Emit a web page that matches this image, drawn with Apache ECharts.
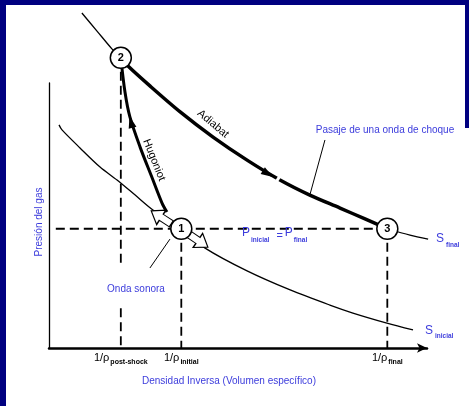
<!DOCTYPE html>
<html><head><meta charset="utf-8">
<script src="https://cdn.jsdelivr.net/npm/echarts@6/dist/echarts.min.js"></script>
<style>html,body{margin:0;padding:0;background:#fff}#c{width:469px;height:406px}</style>
</head><body><div id="c"></div><script>
// ---- data (arbitrary units: specific volume 0..100, pressure 0..100) ----
const vPostShock = 19, vInitial = 35, vFinal = 89.5;
const pInitial = 45, pPostShock = 109.5;
const tickValues = [vPostShock, vInitial, vFinal];
const tickMain = ['1/ρ', '1/ρ', '1/ρ'];
const tickSub = ['post-shock', 'initial', 'final'];
const adiabatAbove = [[8.7,126.4],[12.7,119.6],[16.7,112.8],[19,109.5]];
const adiabatShock = [[19,109.5],[20.9,106.4],[26.7,98.9],[34.7,89.1],[43.4,79.6],[52.4,70.9],[61.1,63.4],[69,57.7],[77,52.8],[83.6,48.7],[89.5,45]];
const adiabatBelow = [[89.5,45],[95.5,42.6],[100.3,41.1]];
const isentropeInicial = [[2.65,84.2],[3.44,82.3],[8.2,75.5],[13.5,68.3],[18,63.4],[22.8,57.7],[27.5,52.1],[35,45],[41.3,37.7],[52.4,29.1],[63.8,21.9],[74.3,16.2],[80.4,13.2],[89.4,9.4],[96.3,6.8]];
const hugoniot = [[19,109.5],[20.1,96.6],[21.4,87.2],[24.1,75.8],[27.2,64.5],[29.9,54.7],[31.2,51.3]];
const stateNames = ['1', '2', '3'];
const statePoints = [[vInitial, pInitial], [vPostShock, pPostShock], [vFinal, pInitial]];
const guideH = [[1.8, pInitial], [vFinal, pInitial]];
const guidePostUpper = [[vPostShock, pPostShock], [vPostShock, 32]];
const guidePostLower = [[vPostShock, 15], [vPostShock, 0]];
const guideInitial = [[vInitial, pInitial], [vInitial, 0]];
const guideFinal = [[vFinal, pInitial], [vFinal, 0]];
const pointerShock = [[73, 78.5], [69, 57.7]];
const pointerSound = [[26.7, 30.2], [32, 41.1]];
const flowArrows = [[57.9, 65.7, -122], [21.7, 85.3, 15]];
const arrowGap = [[60.6, 63.8]];
const soundArrows = [[29.7, 49.3, 147], [39.4, 40.6, -34]];

const BLUE = '#3c3cdc', NAVY = '#000080';
const FONT = '"Liberation Sans", Arial, sans-serif';

function line(data, width, dashed, smooth) {
  return {
    type: 'line', data: data, showSymbol: false, symbol: 'none', clip: false,
    smooth: smooth ? 0.3 : false, silent: true, z: dashed ? 2 : 3,
    lineStyle: { color: '#000', width: width, type: dashed ? [9, 5] : 'solid', cap: 'butt' }
  };
}

const chart = echarts.init(document.getElementById('c'), null, { renderer: 'canvas' });
chart.setOption({
  animation: false,
  backgroundColor: '#fff',
  grid: { left: 49, top: 83, width: 378, height: 265, outerBoundsMode: 'none' },
  xAxis: {
    type: 'value', min: 0, max: 100,
    axisLine: { show: true, symbol: ['none', 'arrow'], symbolSize: [7, 10], lineStyle: { color: '#000', width: 2.5 } },
    axisTick: { show: false }, splitLine: { show: false },
    axisLabel: {
      customValues: tickValues, margin: 4, color: '#000', fontFamily: FONT,
      formatter: function (v) {
        const i = tickValues.indexOf(v);
        return i < 0 ? '' : '{m|' + tickMain[i] + '}{s|' + tickSub[i] + '}';
      },
      rich: {
        m: { fontSize: 11, fontFamily: FONT, color: '#000', verticalAlign: 'top' },
        s: { fontSize: 7, fontWeight: 'bold', fontFamily: FONT, color: '#000', verticalAlign: 'top', padding: [7, 0, 0, 1] }
      }
    }
  },
  yAxis: {
    type: 'value', min: 0, max: 100,
    axisLine: { show: true, lineStyle: { color: '#000', width: 1.3 } },
    axisTick: { show: false }, splitLine: { show: false }, axisLabel: { show: false }
  },
  series: [
    line(guideH, 1.8, true), line(guidePostUpper, 1.8, true), line(guidePostLower, 1.8, true),
    line(guideInitial, 1.8, true), line(guideFinal, 1.8, true),
    line(adiabatAbove, 1.3, false, true),
    line(adiabatShock, 3.5, false, true),
    line(adiabatBelow, 1.3, false, true),
    line(isentropeInicial, 1.3, false, true),
    line(hugoniot, 3, false, true),
    line(pointerShock, 1, false), line(pointerSound, 1, false),
    {
      type: 'scatter', silent: true, clip: false, z: 4,
      symbol: 'rect', symbolSize: [3, 6],
      itemStyle: { color: '#fff', opacity: 1 },
      data: arrowGap.map(a => ({ value: a, symbolRotate: -32 }))
    },
    {
      type: 'scatter', silent: true, clip: false, z: 5,
      symbol: 'triangle', symbolSize: [8, 12],
      itemStyle: { color: '#000', opacity: 1 },
      data: flowArrows.map(a => ({ value: [a[0], a[1]], symbolRotate: a[2] }))
    },
    {
      type: 'scatter', silent: true, clip: false, z: 6,
      symbol: 'path://M0,4 L11,4 L11,0 L22,7 L11,14 L11,10 L0,10 Z', symbolSize: [24, 17],
      itemStyle: { color: '#fff', borderColor: '#000', borderWidth: 1.2, opacity: 1 },
      data: soundArrows.map(a => ({ value: [a[0], a[1]], symbolRotate: a[2] }))
    },
    {
      type: 'scatter', silent: true, clip: false, z: 10,
      symbol: 'circle', symbolSize: 21,
      itemStyle: { color: '#fff', borderColor: '#000', borderWidth: 1.5, opacity: 1 },
      label: { show: true, position: 'inside', formatter: p => stateNames[p.dataIndex], color: '#000', fontSize: 11, fontWeight: 'bold', fontFamily: FONT },
      data: statePoints
    }
  ],
  graphic: [
    { type: 'rect', shape: { x: 0, y: 0, width: 469, height: 5 }, style: { fill: NAVY }, z: 100 },
    { type: 'rect', shape: { x: 0, y: 0, width: 6, height: 406 }, style: { fill: NAVY }, z: 100 },
    { type: 'rect', shape: { x: 465, y: 0, width: 4, height: 128 }, style: { fill: NAVY }, z: 100 },
    { type: 'text', x: 39, y: 222, rotation: Math.PI / 2, z: 100,
      style: { text: 'Presión del gas', fill: BLUE, font: '10px ' + FONT, align: 'center', verticalAlign: 'middle', textAlign: 'center', textVerticalAlign: 'middle' } },
    { type: 'text', x: 229, y: 381, z: 100,
      style: { text: 'Densidad Inversa (Volumen específico)', fill: BLUE, font: '10px ' + FONT, align: 'center', verticalAlign: 'middle', textAlign: 'center', textVerticalAlign: 'middle' } },
    { type: 'text', x: 385, y: 130, z: 100,
      style: { text: 'Pasaje de una onda de choque', fill: BLUE, font: '10px ' + FONT, align: 'center', verticalAlign: 'middle', textAlign: 'center', textVerticalAlign: 'middle' } },
    { type: 'text', x: 136, y: 289, z: 100,
      style: { text: 'Onda sonora', fill: BLUE, font: '10px ' + FONT, align: 'center', verticalAlign: 'middle', textAlign: 'center', textVerticalAlign: 'middle' } },
    { type: 'text', x: 213, y: 124, rotation: -40 * Math.PI / 180, z: 100,
      style: { text: 'Adiabat', fill: '#000', font: '11px ' + FONT, align: 'center', verticalAlign: 'middle', textAlign: 'center', textVerticalAlign: 'middle' } },
    { type: 'text', x: 154, y: 160, rotation: -68 * Math.PI / 180, z: 100,
      style: { text: 'Hugoniot', fill: '#000', font: '11px ' + FONT, align: 'center', verticalAlign: 'middle', textAlign: 'center', textVerticalAlign: 'middle' } },
    { type: 'text', x: 242, y: 227, z: 100,
      style: { text: '{P|P}{s|inicial}{e|=}{P|P}{s|final}', fill: BLUE, align: 'left', verticalAlign: 'top', textAlign: 'left', textVerticalAlign: 'top',
        rich: {
          P: { fontSize: 12, fontFamily: FONT, fill: BLUE, color: BLUE, verticalAlign: 'top' },
          s: { fontSize: 6.5, fontWeight: 'bold', fontFamily: FONT, fill: BLUE, color: BLUE, verticalAlign: 'top', padding: [10, 0, 0, 1] },
          e: { fontSize: 11, fontFamily: FONT, fill: BLUE, color: BLUE, verticalAlign: 'top', padding: [3, 2, 0, 7] }
        } } },
    { type: 'text', x: 436, y: 233, z: 100,
      style: { text: '{S|S}{s|final}', fill: BLUE, align: 'left', verticalAlign: 'top', textAlign: 'left', textVerticalAlign: 'top',
        rich: {
          S: { fontSize: 12, fontFamily: FONT, fill: BLUE, color: BLUE, verticalAlign: 'top' },
          s: { fontSize: 6.5, fontWeight: 'bold', fontFamily: FONT, fill: BLUE, color: BLUE, verticalAlign: 'top', padding: [9, 0, 0, 2] }
        } } },
    { type: 'text', x: 425, y: 325, z: 100,
      style: { text: '{S|S}{s|inicial}', fill: BLUE, align: 'left', verticalAlign: 'top', textAlign: 'left', textVerticalAlign: 'top',
        rich: {
          S: { fontSize: 12, fontFamily: FONT, fill: BLUE, color: BLUE, verticalAlign: 'top' },
          s: { fontSize: 6.5, fontWeight: 'bold', fontFamily: FONT, fill: BLUE, color: BLUE, verticalAlign: 'top', padding: [8, 0, 0, 2] }
        } } }
  ]
});
</script></body></html>
